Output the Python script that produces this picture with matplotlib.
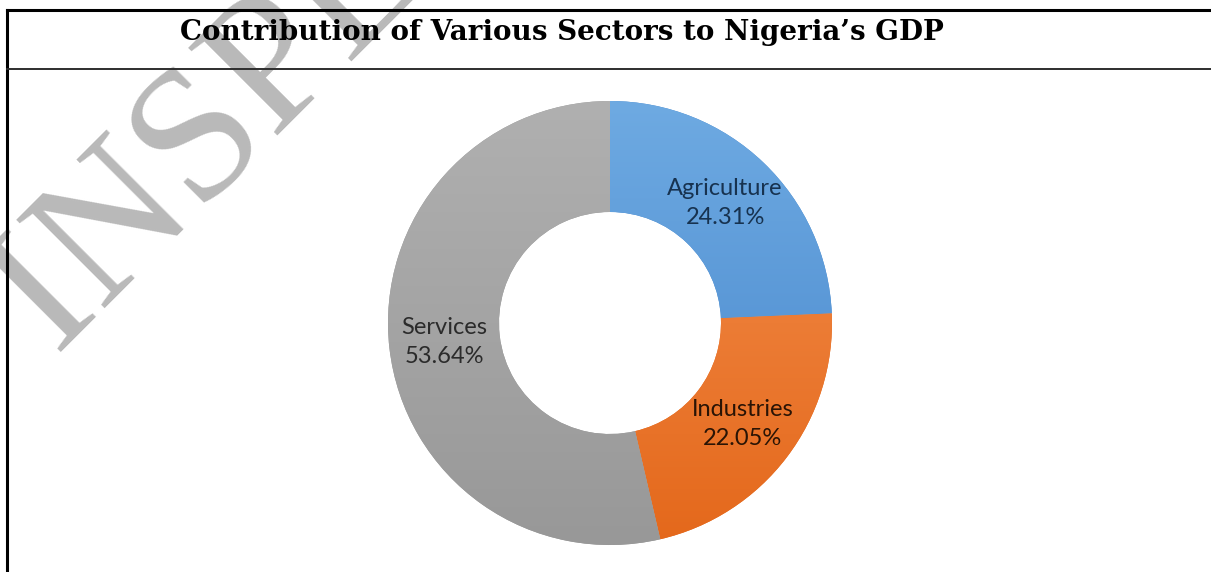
import numpy as np
import matplotlib
matplotlib.use('Agg')
import matplotlib.pyplot as plt
from matplotlib.lines import Line2D
from matplotlib.colors import LinearSegmentedColormap

sectors = ['Agriculture', 'Industries', 'Services']
shares = [24.31, 22.05, 53.64]
# light (top) and dark (bottom) shade of each slice
top_colors = ['#6eaae2', '#f4904f', '#b0b0b0']
bottom_colors = ['#4585cb', '#e4681b', '#989898']
label_colors = ['#17324f', '#2a1405', '#2b2b2b']
title = 'Contribution of Various Sectors to Nigeria\u2019s GDP'

W, H = 1211, 572
fig = plt.figure(figsize=(W / 100, H / 100), dpi=100)
fig.patch.set_facecolor('white')

# box around the chart: left edge, top edge and the rule under the title
fig.add_artist(Line2D([7 / W, 7 / W], [0, (H - 10) / H], color='black', lw=2.2, zorder=6))
fig.add_artist(Line2D([7 / W, 1], [(H - 10) / H, (H - 10) / H], color='black', lw=2.2, zorder=6))
fig.add_artist(Line2D([7 / W, 1], [(H - 69) / H, (H - 69) / H], color='#2e2e2e', lw=1.4, zorder=6))

fig.text(562 / W, (H - 32) / H, title, ha='center', va='center',
         family='DejaVu Serif', fontweight='bold', fontsize=20, color='black', zorder=6)

# donut
R = 222
cx, cy = 610, H - 323
ax = fig.add_axes([(cx - R) / W, (cy - R) / H, 2 * R / W, 2 * R / H])
wedges, _ = ax.pie(shares, colors=bottom_colors, startangle=90, counterclock=False,
                   radius=1.0, wedgeprops=dict(width=0.5, linewidth=0))

# vertical shading inside each slice
grad = np.linspace(0, 1, 256).reshape(-1, 1)
for w, c0, c1 in zip(wedges, top_colors, bottom_colors):
    cmap = LinearSegmentedColormap.from_list('shade', [c0, c1])
    im = ax.imshow(grad, cmap=cmap, extent=(-1, 1, -1, 1), origin='upper',
                   aspect='auto', zorder=w.get_zorder() + 0.1)
    im.set_clip_path(w)

ax.set_xlim(-1, 1)
ax.set_ylim(-1, 1)
ax.set_aspect('auto')
ax.axis('off')

for w, name, val, tc in zip(wedges, sectors, shares, label_colors):
    ang = np.deg2rad((w.theta1 + w.theta2) / 2)
    r = 0.75
    ax.text(r * np.cos(ang), r * np.sin(ang), f'{name}\n{val:.2f}%',
            ha='center', va='center', family='Lato', fontsize=17,
            color=tc, linespacing=1.45, zorder=5)

# watermark across the upper left
fig.text(56.5 / W, (H - 356.5) / H, 'INSPECTION COPY', rotation=45,
         rotation_mode='anchor', ha='left', va='baseline',
         family='Liberation Serif', fontsize=137, color='#b9b9b9', zorder=1)

plt.savefig('out.png', dpi=100, facecolor='white')
